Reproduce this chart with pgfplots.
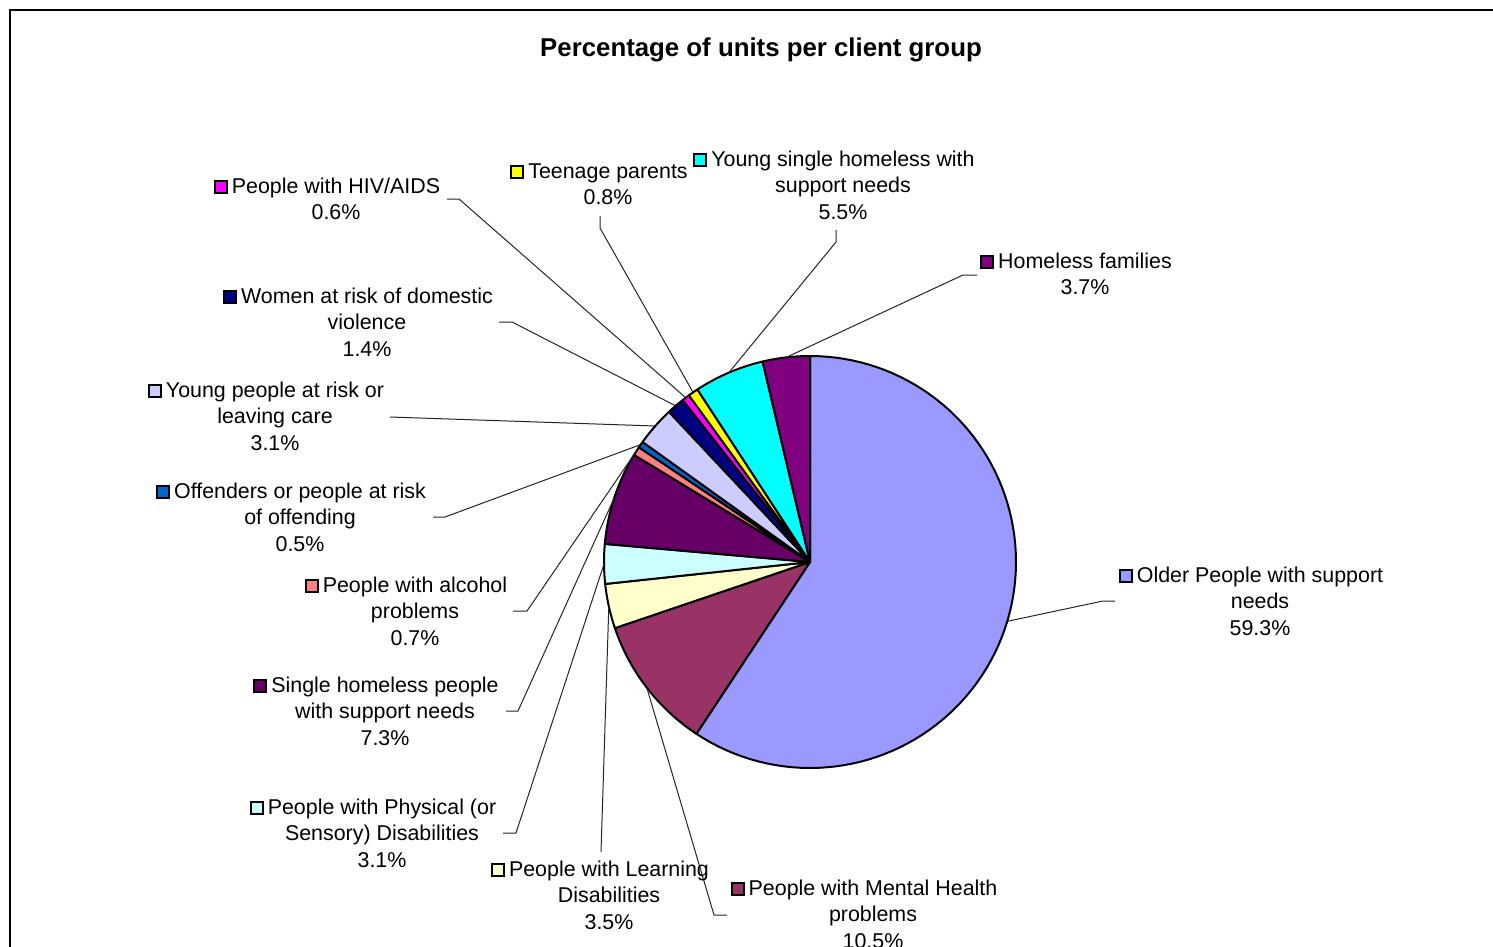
\documentclass[border=0pt]{standalone}
\usepackage{pgfplots}
\pgfplotsset{compat=1.18}
\usepackage{fontspec}
\setmainfont{Liberation Sans}
\definecolor{cOld}{HTML}{9999FF}
\definecolor{cMen}{HTML}{993366}
\definecolor{cLea}{HTML}{FFFFCC}
\definecolor{cPhy}{HTML}{CCFFFF}
\definecolor{cSin}{HTML}{660066}
\definecolor{cAlc}{HTML}{FF8080}
\definecolor{cOff}{HTML}{0066CC}
\definecolor{cYou}{HTML}{CCCCFF}
\definecolor{cWom}{HTML}{000080}
\definecolor{cHiv}{HTML}{FF00FF}
\definecolor{cTee}{HTML}{FFFF00}
\definecolor{cYsh}{HTML}{00FFFF}
\definecolor{cHfa}{HTML}{800080}
% percentage / colour, clockwise from 12 o'clock
\def\piedata{59.3/cOld, 10.5/cMen, 3.5/cLea, 3.1/cPhy, 7.3/cSin, 0.7/cAlc, 0.5/cOff, 3.1/cYou, 1.4/cWom, 0.6/cHiv, 0.8/cTee, 5.5/cYsh, 3.7/cHfa}
\newcommand\key[1]{\raisebox{0.6pt}{\setlength\fboxsep{0pt}\setlength\fboxrule{1pt}\fcolorbox{black}{#1}{\rule{0pt}{5pt}\rule{5pt}{0pt}}}\hspace{2pt}}
\tikzset{lab/.style={align=center, inner sep=0pt, font=\fontsize{10.7}{13.2}\selectfont}}
\begin{document}
\begin{tikzpicture}
\path[clip, use as bounding box] (0,0) rectangle (746.5pt,473.5pt);
\fill[white] (0,0) rectangle (746.5pt,473.5pt);
\begin{axis}[
  width=746.5pt, height=473.5pt, scale only axis,
  xmin=0, xmax=1493, ymin=0, ymax=947, y dir=reverse,
  hide axis, clip=false,
]
\xdef\cum{0}
\foreach \p/\c in \piedata {
  \pgfmathsetmacro\sa{-90+3.6*\cum}
  \pgfmathsetmacro\sb{-90+3.6*(\cum+\p)}
  \pgfmathsetmacro\nc{\cum+\p}
  \xdef\cum{\nc}
  \edef\temp{\noexpand\addplot[fill=\c, draw=black, line width=1pt, line join=round, domain=\sa:\sb, samples=91, variable=\noexpand\t] ({810+206*cos(\noexpand\t)},{562+206*sin(\noexpand\t)}) -- (810,562) -- cycle;}
  \temp
}
% frame
\draw[line width=1pt] (10,960) -- (10,10) -- (1500,10);
% title
\node[font=\fontsize{12.9}{15}\selectfont\bfseries] at (761,50) {Percentage of units per client group};
% leader lines
\begin{scope}[line width=0.5pt, black!85]
\draw (1115,601) -- (1103,601) -- (1007.3,621.3);
\draw (727,915) -- (714,915) -- (646.8,687.7);
\draw (601,852) -- (608.8,606.3);
\draw (503,833) -- (516,833) -- (604,564);
\draw (506,711) -- (518,711) -- (614.3,497.7);
\draw (513,611) -- (527,611) -- (636.4,451);
\draw (433,517) -- (445,517) -- (640.7,444.6);
\draw (390,417) -- (655,426);
\draw (499,322) -- (512,322) -- (675.7,405.8);
\draw (447,199) -- (459,199) -- (685.7,397.7);
\draw (600,216) -- (600,228) -- (693.1,392.4);
\draw (836,230) -- (836,242) -- (728.8,372.7);
\draw (977,275) -- (963,275) -- (786.1,357.4);
\end{scope}
% labels
\node[lab] at (1260,601) {\llap{\key{cOld}}Older People with support\\needs\\59.3\%};
\node[lab] at (873,914) {\llap{\key{cMen}}People with Mental Health\\problems\\10.5\%};
\node[lab] at (609,895) {\llap{\key{cLea}}People with Learning\\Disabilities\\3.5\%};
\node[lab] at (382,833) {\llap{\key{cPhy}}People with Physical (or\\Sensory) Disabilities\\3.1\%};
\node[lab] at (385,711) {\llap{\key{cSin}}Single homeless people\\with support needs\\7.3\%};
\node[lab] at (415,611) {\llap{\key{cAlc}}People with alcohol\\problems\\0.7\%};
\node[lab] at (300,517) {\llap{\key{cOff}}Offenders or people at risk\\of offending\\0.5\%};
\node[lab] at (275,416) {\llap{\key{cYou}}Young people at risk or\\leaving care\\3.1\%};
\node[lab] at (367,322) {\llap{\key{cWom}}Women at risk of domestic\\violence\\1.4\%};
\node[lab] at (336,199) {\llap{\key{cHiv}}People with HIV/AIDS\\0.6\%};
\node[lab] at (608,184) {\llap{\key{cTee}}Teenage parents\\0.8\%};
\node[lab] at (843,185) {\llap{\key{cYsh}}Young single homeless with\\support needs\\5.5\%};
\node[lab] at (1085,274) {\llap{\key{cHfa}}Homeless families\\3.7\%};
\end{axis}
\end{tikzpicture}
\end{document}
